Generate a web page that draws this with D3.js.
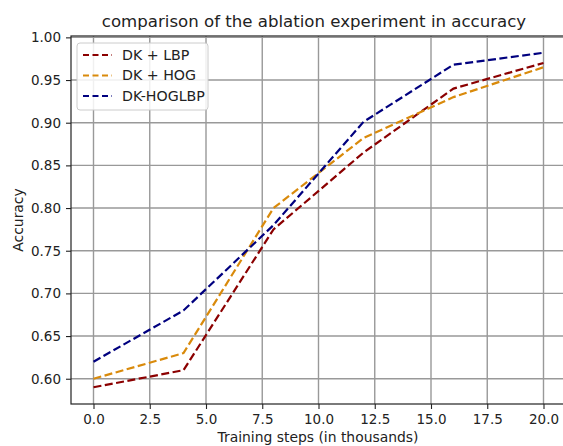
<!DOCTYPE html>
<html>
<head>
<meta charset="utf-8">
<script src="https://cdn.jsdelivr.net/npm/d3@7"></script>
<style>
  body { margin: 0; background: #fff; }
  text { font-family: "DejaVu Sans", sans-serif; fill: #222; }
</style>
</head>
<body>
<div id="chart"></div>
<script>
const steps = [0, 4, 8, 12, 16, 20];
const lbp = [0.59, 0.61, 0.775, 0.865, 0.94, 0.97];
const hog = [0.60, 0.63, 0.80, 0.882, 0.93, 0.965];
const hoglbp = [0.62, 0.68, 0.78, 0.901, 0.968, 0.982];
const seriesNames = ['DK + LBP', 'DK + HOG', 'DK-HOGLBP'];
const seriesColors = ['#8b0000', '#d98a0b', '#00007f'];
const xTicks = [0, 2.5, 5, 7.5, 10, 12.5, 15, 17.5, 20];
const yTicks = [0.60, 0.65, 0.70, 0.75, 0.80, 0.85, 0.90, 0.95, 1.00];

const width = 563;
const height = 446;
const margin = { top: 36, right: -3, bottom: 42, left: 71 };

const svg = d3.select('#chart')
  .append('svg')
  .attr('width', width)
  .attr('height', height);

const x = d3.scaleLinear()
  .domain([-1, 21])
  .range([margin.left, width - margin.right]);

const y = d3.scaleLinear()
  .domain([0.5704, 1.0016])
  .range([height - margin.bottom, margin.top]);

// grid
svg.append('g')
  .attr('stroke', '#999')
  .attr('stroke-width', 1.4)
  .selectAll('line.v')
  .data(xTicks)
  .join('line')
    .attr('x1', d => x(d)).attr('x2', d => x(d))
    .attr('y1', y.range()[0]).attr('y2', y.range()[1]);

svg.append('g')
  .attr('stroke', '#999')
  .attr('stroke-width', 1.4)
  .selectAll('line.h')
  .data(yTicks)
  .join('line')
    .attr('x1', x.range()[0]).attr('x2', x.range()[1])
    .attr('y1', d => y(d)).attr('y2', d => y(d));

const data = [lbp, hog, hoglbp];
const line = d3.line()
  .x((d, i) => x(steps[i]))
  .y(d => y(d));

svg.append('g')
  .selectAll('path')
  .data(data)
  .join('path')
    .attr('fill', 'none')
    .attr('stroke', (d, i) => seriesColors[i])
    .attr('stroke-width', 2.2)
    .attr('stroke-dasharray', '8,3.5')
    .attr('d', line);

// frame
svg.append('rect')
  .attr('x', x.range()[0])
  .attr('y', y.range()[1])
  .attr('width', x.range()[1] - x.range()[0])
  .attr('height', y.range()[0] - y.range()[1])
  .attr('fill', 'none')
  .attr('stroke', '#222')
  .attr('stroke-width', 1.2);

function xAxis(g) {
  g.attr('transform', `translate(0,${height - margin.bottom})`)
    .call(d3.axisBottom(x).tickValues(xTicks).tickFormat(d3.format('.1f')).tickSize(5).tickPadding(5))
    .call(g => g.select('.domain').remove())
    .attr('font-size', 13.5);
}

function yAxis(g) {
  g.attr('transform', `translate(${margin.left},0)`)
    .call(d3.axisLeft(y).tickValues(yTicks).tickFormat(d3.format('.2f')).tickSize(5).tickPadding(5))
    .call(g => g.select('.domain').remove())
    .attr('font-size', 13.5);
}

svg.append('g').call(xAxis);
svg.append('g').call(yAxis);
svg.selectAll('.tick line').attr('stroke', '#222').attr('stroke-width', 1.1);
svg.selectAll('.tick text').attr('fill', '#222').attr('font-family', 'DejaVu Sans');

svg.append('text')
  .attr('x', 314)
  .attr('y', 27)
  .attr('text-anchor', 'middle')
  .attr('font-size', 16.6)
  .text('comparison of the ablation experiment in accuracy');

svg.append('text')
  .attr('x', 318)
  .attr('y', 442)
  .attr('text-anchor', 'middle')
  .attr('font-size', 13.9)
  .text('Training steps (in thousands)');

svg.append('text')
  .attr('transform', `translate(23,${(y.range()[0] + y.range()[1]) / 2}) rotate(-90)`)
  .attr('text-anchor', 'middle')
  .attr('font-size', 13.9)
  .text('Accuracy');

// legend
const legend = svg.append('g').attr('transform', 'translate(77,43)');
legend.append('rect')
  .attr('width', 131).attr('height', 67)
  .attr('rx', 3)
  .attr('fill', 'rgba(255,255,255,0.85)')
  .attr('stroke', '#ccc');
const items = legend.selectAll('g.item')
  .data(seriesNames)
  .join('g')
    .attr('transform', (d, i) => `translate(0,${12 + i * 20.5})`);
items.append('line')
  .attr('x1', 6).attr('x2', 35)
  .attr('stroke', (d, i) => seriesColors[i])
  .attr('stroke-width', 2.2)
  .attr('stroke-dasharray', '6,3.5');
items.append('text')
  .attr('x', 45).attr('dy', '0.35em')
  .attr('font-size', 14.2)
  .text(d => d);
</script>
</body>
</html>
